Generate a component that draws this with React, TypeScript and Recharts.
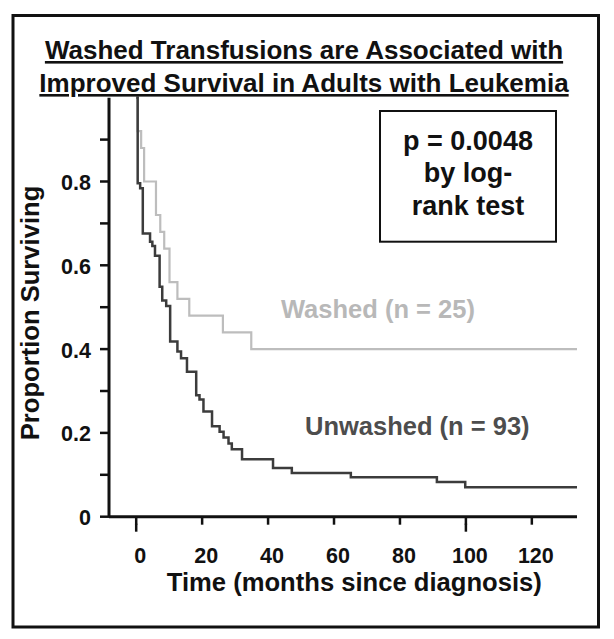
import React from 'react';
import { LineChart, Line, XAxis, YAxis } from 'recharts';

// Kaplan-Meier curves (months, proportion surviving)
const washedMonths = [0, 0.4, 1.5, 2.4, 6.0, 7.3, 8.5, 10.1, 12.5, 16.1, 26.3, 34.9, 133.7];
const washedSurv = [1.0, 0.92, 0.88, 0.8, 0.72, 0.68, 0.64, 0.56, 0.52, 0.48, 0.44, 0.4, 0.4];

const unwashedMonths = [
  0, 0.45, 1.2, 2.0, 4.2, 4.9, 5.7, 7.1, 7.9, 9.1, 10.3, 12.5, 13.6, 15.4, 18.2, 19.2, 20.4,
  23.0, 25.3, 26.5, 28.0, 29.0, 32.1, 41.5, 47.2, 65.1, 91.2, 99.8, 133.7,
];
const unwashedSurv = [
  1.0, 0.796, 0.784, 0.676, 0.656, 0.646, 0.623, 0.549, 0.516, 0.503, 0.418, 0.394, 0.378, 0.346,
  0.29, 0.28, 0.251, 0.216, 0.203, 0.189, 0.175, 0.161, 0.137, 0.116, 0.104, 0.094, 0.083, 0.07,
  0.07,
];

const xDomain = [-8.25, 133.7];
const xTicks = [0, 20, 40, 60, 80, 100, 120];
const longXTicks = [0, 100];
const yTicks = [0, 0.1, 0.2, 0.3, 0.4, 0.5, 0.6, 0.7, 0.8, 0.9];
const yTickLabels = ['0', '', '0.2', '', '0.4', '', '0.6', '', '0.8', ''];

const titleLines = ['Washed Transfusions are Associated with', 'Improved Survival in Adults with Leukemia'];
const pLines = ['p = 0.0048', 'by log-', 'rank test'];

const washedData = washedMonths.map((t, i) => ({ t, s: washedSurv[i] }));
const unwashedData = unwashedMonths.map((t, i) => ({ t, s: unwashedSurv[i] }));

const FONT = '"Liberation Sans", Arial, Helvetica, sans-serif';
const INK = '#111';

// y here is the end of the 8px tick line
function XTick(props: any) {
  const { x, y, payload } = props;
  const long = longXTicks.includes(payload.value);
  return (
    <g>
      {long && <line x1={x} x2={x} y1={y - 1} y2={y + 7} stroke={INK} strokeWidth={2.5} />}
      <text x={x + 4} y={y + 38} textAnchor="middle" fontFamily={FONT} fontWeight="bold" fontSize={21.5} fill={INK}>
        {payload.value}
      </text>
    </g>
  );
}

function YTick(props: any) {
  const { x, y, payload } = props;
  const idx = yTicks.findIndex((v) => Math.abs(v - payload.value) < 1e-6);
  const label = idx >= 0 ? yTickLabels[idx] : '';
  return (
    <text x={x} y={y + 8.5} textAnchor="end" fontFamily={FONT} fontWeight="bold" fontSize={21.5} fill={INK}>
      {label}
    </text>
  );
}

export default function App() {
  return (
    <div style={{ position: 'absolute', left: 0, top: 0, width: 614, height: 639, background: '#fff' }}>
      <LineChart width={614} height={639} margin={{ top: 97.7, right: 37, bottom: 82.3, left: 0 }}>
        <XAxis
          dataKey="t"
          type="number"
          domain={xDomain}
          ticks={xTicks}
          allowDataOverflow
          height={40}
          stroke={INK}
          tickSize={8}
          tickMargin={0}
          tickLine={{ stroke: INK, strokeWidth: 2.5 }}
          tick={<XTick />}
          axisLine={{ stroke: INK, strokeWidth: 3 }}
        />
        <YAxis
          type="number"
          domain={[0, 1]}
          ticks={yTicks}
          width={109}
          stroke={INK}
          tickSize={9}
          tickMargin={9}
          tickLine={{ stroke: INK, strokeWidth: 2.5 }}
          tick={<YTick />}
          axisLine={{ stroke: INK, strokeWidth: 3 }}
        />
        <Line
          data={washedData}
          dataKey="s"
          type="stepAfter"
          stroke="#bdbdbd"
          strokeWidth={2.2}
          dot={false}
          activeDot={false}
          isAnimationActive={false}
        />
        <Line
          data={unwashedData}
          dataKey="s"
          type="stepAfter"
          stroke="#3c3c3c"
          strokeWidth={2.5}
          dot={false}
          activeDot={false}
          isAnimationActive={false}
        />
      </LineChart>

      <svg
        width={614}
        height={639}
        style={{ position: 'absolute', left: 0, top: 0, pointerEvents: 'none' }}
        fontFamily={FONT}
        fontWeight="bold"
      >
        <rect x={13} y={15.5} width={585.5} height={611.5} fill="none" stroke={INK} strokeWidth={3} />
        {titleLines.map((line, i) => (
          <text key={line} x={304} y={59 + i * 33} textAnchor="middle" fontSize={26} fill={INK} textDecoration="underline">
            {line}
          </text>
        ))}
        <text transform="translate(39, 313) rotate(-90)" textAnchor="middle" fontSize={25.6} fill={INK}>
          Proportion Surviving
        </text>
        <text x={354.3} y={591} textAnchor="middle" fontSize={25.6} fill={INK}>
          Time (months since diagnosis)
        </text>
        <rect x={380} y={111} width={176} height={130.7} fill="#fff" stroke={INK} strokeWidth={2} />
        {pLines.map((line, i) => (
          <text key={line} x={468} y={149.5 + i * 32.5} textAnchor="middle" fontSize={27} fill={INK}>
            {line}
          </text>
        ))}
        <text x={281} y={318} fontSize={25.5} fill="#b8b8b8">
          Washed (n = 25)
        </text>
        <text x={305} y={435} fontSize={25.5} fill="#4d4d4d">
          Unwashed (n = 93)
        </text>
      </svg>
    </div>
  );
}
